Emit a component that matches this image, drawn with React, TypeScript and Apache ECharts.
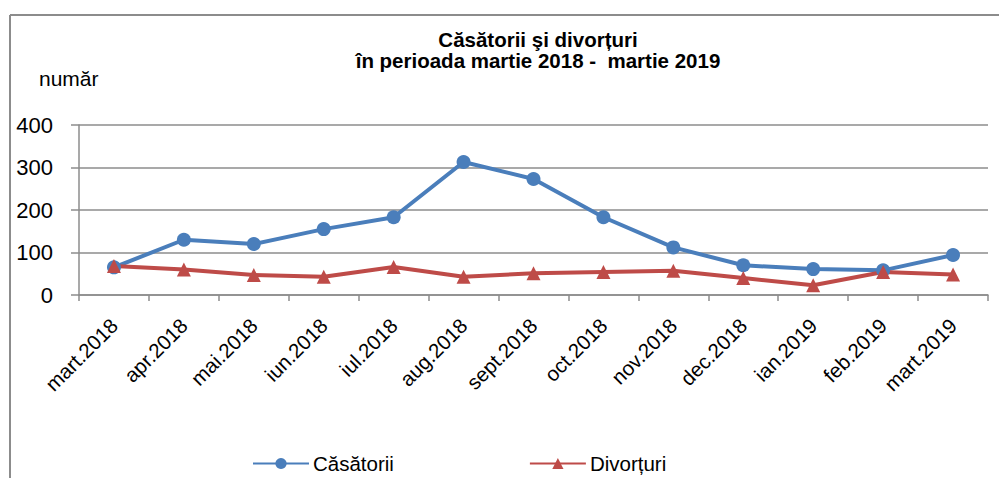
import React, { useEffect, useRef } from "react";
import * as echarts from "echarts";

const categories = [
  "mart.2018", "apr.2018", "mai.2018", "iun.2018", "iul.2018", "aug.2018",
  "sept.2018", "oct.2018", "nov.2018", "dec.2018", "ian.2019", "feb.2019", "mart.2019",
];
const casatorii = [65, 130, 120, 155, 183, 313, 273, 183, 112, 70, 61, 58, 94];
const divorturi = [68, 60, 47, 43, 66, 43, 51, 54, 57, 40, 23, 54, 48];
const yTicks = { min: 0, max: 400, interval: 100 };

const FONT = "'Liberation Sans', Arial, sans-serif";
const BLUE = "#4a7ebb";
const RED = "#be4b48";
const GRAY = "#8c8c8c";

export default function App() {
  const ref = useRef<HTMLDivElement>(null);
  useEffect(() => {
    if (!ref.current) return;
    const chart = echarts.init(ref.current, null, { renderer: "svg" });
    chart.setOption({
      animation: false,
      backgroundColor: "#ffffff",
      textStyle: { fontFamily: FONT },
      title: {
        text: "Căsătorii şi divorțuri\nîn perioada martie 2018 -  martie 2019",
        left: 538,
        top: 29,
        textAlign: "center",
        padding: 0,
        textStyle: {
          fontFamily: FONT,
          fontSize: 20.5,
          fontWeight: "bold",
          color: "#000",
          lineHeight: 21,
        },
      },
      graphic: [
        {
          type: "line",
          shape: { x1: 10, y1: 15, x2: 999, y2: 15 },
          style: { stroke: GRAY, lineWidth: 2 },
        },
        {
          type: "line",
          shape: { x1: 10, y1: 15, x2: 10, y2: 478 },
          style: { stroke: GRAY, lineWidth: 2 },
        },
        {
          type: "text",
          x: 39,
          y: 78,
          style: {
            text: "număr",
            fontFamily: FONT,
            fontSize: 21,
            fill: "#000",
            verticalAlign: "middle",
          },
        },
      ],
      legend: {
        left: 252,
        top: 453,
        padding: 0,
        itemWidth: 56,
        itemHeight: 14,
        itemGap: 135,
        textStyle: { fontFamily: FONT, fontSize: 20.5, color: "#000", padding: [0, 0, 0, -1] },
        data: ["Căsătorii", "Divorțuri"],
      },
      grid: { left: 79, right: 11, top: 125, bottom: 183 },
      xAxis: {
        type: "category",
        data: categories,
        boundaryGap: true,
        axisLine: { lineStyle: { color: GRAY, width: 1.5 } },
        axisTick: { show: true, length: 6, lineStyle: { color: GRAY, width: 1.5 } },
        axisLabel: {
          rotate: 45,
          interval: 0,
          margin: 27,
          fontFamily: FONT,
          fontSize: 20.5,
          color: "#000",
        },
      },
      yAxis: {
        type: "value",
        min: yTicks.min,
        max: yTicks.max,
        interval: yTicks.interval,
        axisLine: { show: true, lineStyle: { color: GRAY, width: 1.5 } },
        axisTick: { show: true, length: 8, lineStyle: { color: GRAY, width: 1.5 } },
        axisLabel: { margin: 26, fontFamily: FONT, fontSize: 22, color: "#000" },
        splitLine: { show: true, lineStyle: { color: GRAY, width: 1.5 } },
      },
      series: [
        {
          name: "Căsătorii",
          type: "line",
          data: casatorii,
          symbol: "circle",
          symbolSize: 14,
          lineStyle: { color: BLUE, width: 4 },
          itemStyle: { color: BLUE },
        },
        {
          name: "Divorțuri",
          type: "line",
          data: divorturi,
          symbol: "triangle",
          symbolSize: 14,
          lineStyle: { color: RED, width: 4 },
          itemStyle: { color: RED },
        },
      ],
    });
    return () => chart.dispose();
  }, []);
  return (
    <div
      ref={ref}
      style={{ position: "fixed", left: 0, top: 0, width: 999, height: 478 }}
    />
  );
}
